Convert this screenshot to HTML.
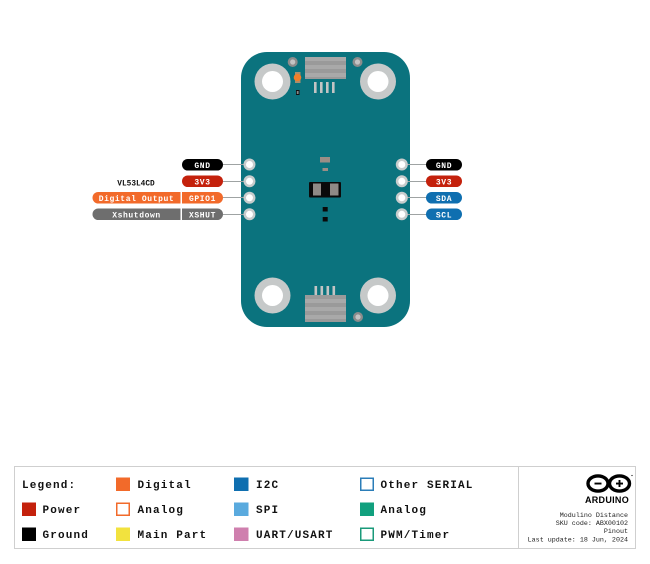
<!DOCTYPE html>
<html>
<head>
<meta charset="utf-8">
<style>
  html,body{margin:0;padding:0;background:#fff;}
  svg{display:block;}
  .pl{font-family:"Liberation Mono",monospace;font-weight:bold;font-size:8px;fill:#fff;letter-spacing:0.6px;}
  .lg{font-family:"Liberation Mono",monospace;font-weight:bold;font-size:11px;fill:#111;letter-spacing:1.15px;}
  .sm{font-family:"Liberation Mono",monospace;font-size:6.7px;fill:#222;}
</style>
</head>
<body>
<svg width="650" height="564" viewBox="0 0 650 564" xmlns="http://www.w3.org/2000/svg">
  <rect width="650" height="564" fill="#fff"/>

  <!-- Board -->
  <rect x="241" y="52" width="169" height="275" rx="26" ry="26" fill="#0b737e"/>

  <!-- Mounting holes -->
  <g fill="#c6c9c9">
    <circle cx="272.5" cy="81.5" r="18"/>
    <circle cx="378" cy="81.5" r="18"/>
    <circle cx="272.5" cy="295.5" r="18"/>
    <circle cx="378" cy="295.5" r="18"/>
  </g>
  <g fill="#fff">
    <circle cx="272.5" cy="81.5" r="10.5"/>
    <circle cx="378" cy="81.5" r="10.5"/>
    <circle cx="272.5" cy="295.5" r="10.5"/>
    <circle cx="378" cy="295.5" r="10.5"/>
  </g>

  <!-- small screw holes -->
  <g>
    <circle cx="292.7" cy="62" r="5" fill="#8c8c8c"/>
    <circle cx="292.7" cy="62" r="2.6" fill="#c4c4c4"/>
    <circle cx="357.5" cy="62" r="5" fill="#8c8c8c"/>
    <circle cx="357.5" cy="62" r="2.6" fill="#c4c4c4"/>
    <circle cx="358" cy="317" r="5" fill="#8c8c8c"/>
    <circle cx="358" cy="317" r="2.6" fill="#c4c4c4"/>
  </g>

  <!-- Top connector -->
  <g>
    <rect x="305" y="57" width="41" height="22" fill="#9a9a9a"/>
    <rect x="305" y="57" width="41" height="4" fill="#a9a9a9"/>
    <rect x="305" y="65" width="41" height="4" fill="#a9a9a9"/>
    <rect x="305" y="73" width="41" height="4" fill="#a9a9a9"/>
    <rect x="314" y="82" width="2.6" height="11" fill="#c4c4c4"/>
    <rect x="320" y="82" width="2.6" height="11" fill="#c4c4c4"/>
    <rect x="326" y="82" width="2.6" height="11" fill="#c4c4c4"/>
    <rect x="332" y="82" width="2.6" height="11" fill="#c4c4c4"/>
  </g>

  <!-- Bottom connector -->
  <g>
    <rect x="305" y="295" width="41" height="27" fill="#9a9a9a"/>
    <rect x="305" y="299" width="41" height="4" fill="#a9a9a9"/>
    <rect x="305" y="307" width="41" height="4" fill="#a9a9a9"/>
    <rect x="305" y="315" width="41" height="4" fill="#a9a9a9"/>
    <rect x="314.5" y="286" width="2.6" height="9" fill="#c4c4c4"/>
    <rect x="320.5" y="286" width="2.6" height="9" fill="#c4c4c4"/>
    <rect x="326.5" y="286" width="2.6" height="9" fill="#c4c4c4"/>
    <rect x="332.5" y="286" width="2.6" height="9" fill="#c4c4c4"/>
  </g>

  <!-- LED -->
  <rect x="295" y="72" width="5.5" height="11" fill="#a88e6e"/>
  <circle cx="297.5" cy="77.5" r="3.8" fill="#f07f2a"/>
  <rect x="296" y="90" width="3.5" height="5" fill="#111"/>
  <rect x="296.8" y="91" width="1.8" height="3" fill="#888"/>

  <!-- center components -->
  <rect x="320" y="157" width="10" height="5.5" fill="#9b8e86"/>
  <rect x="322.5" y="168" width="5.5" height="3" fill="#9b8e86"/>
  <rect x="309" y="182" width="32" height="15.5" rx="1" fill="#0a0a0a"/>
  <rect x="313" y="183.5" width="8" height="12" fill="#8f8a86"/>
  <rect x="330" y="183.5" width="8.5" height="12" fill="#8f8a86"/>
  <rect x="322.7" y="207" width="5" height="4.5" fill="#0a0a0a"/>
  <rect x="322.7" y="217" width="5" height="4.5" fill="#0a0a0a"/>

  <!-- Connector lines -->
  <g stroke="#9fa3a3" stroke-width="1">
    <line x1="223" y1="164.5" x2="244" y2="164.5"/>
    <line x1="223" y1="181.5" x2="244" y2="181.5"/>
    <line x1="223" y1="197.5" x2="244" y2="197.5"/>
    <line x1="223" y1="214.5" x2="244" y2="214.5"/>
    <line x1="407" y1="164.5" x2="427" y2="164.5"/>
    <line x1="407" y1="181.5" x2="427" y2="181.5"/>
    <line x1="407" y1="197.5" x2="427" y2="197.5"/>
    <line x1="407" y1="214.5" x2="427" y2="214.5"/>
  </g>

  <!-- Pins -->
  <g fill="#c8cccc">
    <circle cx="249.5" cy="164.5" r="6"/>
    <circle cx="249.5" cy="181.3" r="6"/>
    <circle cx="249.5" cy="197.8" r="6"/>
    <circle cx="249.5" cy="214.3" r="6"/>
    <circle cx="401.8" cy="164.5" r="6"/>
    <circle cx="401.8" cy="181.3" r="6"/>
    <circle cx="401.8" cy="197.8" r="6"/>
    <circle cx="401.8" cy="214.3" r="6"/>
  </g>
  <g fill="#fff">
    <circle cx="249.5" cy="164.5" r="3.5"/>
    <circle cx="249.5" cy="181.3" r="3.5"/>
    <circle cx="249.5" cy="197.8" r="3.5"/>
    <circle cx="249.5" cy="214.3" r="3.5"/>
    <circle cx="401.8" cy="164.5" r="3.5"/>
    <circle cx="401.8" cy="181.3" r="3.5"/>
    <circle cx="401.8" cy="197.8" r="3.5"/>
    <circle cx="401.8" cy="214.3" r="3.5"/>
  </g>

  <!-- Left labels -->
  <rect x="182" y="159" width="41" height="11.5" rx="5.75" fill="#000"/>
  <text class="pl" x="202.5" y="167.8" text-anchor="middle">GND</text>

  <rect x="182" y="175.5" width="41" height="11.5" rx="5.75" fill="#c4210c"/>
  <text class="pl" x="202.5" y="184.3" text-anchor="middle">3V3</text>

  <path d="M182 192 H217.25 A5.75 5.75 0 0 1 217.25 203.5 H182 Z" fill="#f26a2a"/>
  <text class="pl" x="202.5" y="200.8" text-anchor="middle">GPIO1</text>
  <path d="M180.5 192 H98.25 A5.75 5.75 0 0 0 98.25 203.5 H180.5 Z" fill="#f26a2a"/>
  <text class="pl" x="136.5" y="200.8" text-anchor="middle">Digital Output</text>

  <path d="M182 208.5 H217.25 A5.75 5.75 0 0 1 217.25 220 H182 Z" fill="#6e6e6e"/>
  <text class="pl" x="202.5" y="217.3" text-anchor="middle">XSHUT</text>
  <path d="M180.5 208.5 H98.25 A5.75 5.75 0 0 0 98.25 220 H180.5 Z" fill="#6e6e6e"/>
  <text class="pl" x="136.5" y="217.3" text-anchor="middle">Xshutdown</text>

  <text x="136" y="185.5" text-anchor="middle" style="font-family:'Liberation Mono',monospace;font-weight:bold;font-size:7.8px;fill:#111;">VL53L4CD</text>

  <!-- Right labels -->
  <rect x="426" y="159" width="36" height="11.5" rx="5.75" fill="#000"/>
  <text class="pl" x="444" y="167.8" text-anchor="middle">GND</text>
  <rect x="426" y="175.5" width="36" height="11.5" rx="5.75" fill="#c4210c"/>
  <text class="pl" x="444" y="184.3" text-anchor="middle">3V3</text>
  <rect x="426" y="192" width="36" height="11.5" rx="5.75" fill="#0f6fb0"/>
  <text class="pl" x="444" y="200.8" text-anchor="middle">SDA</text>
  <rect x="426" y="208.5" width="36" height="11.5" rx="5.75" fill="#0f6fb0"/>
  <text class="pl" x="444" y="217.3" text-anchor="middle">SCL</text>

  <!-- Legend box -->
  <rect x="14.5" y="466.5" width="621" height="82" fill="#fff" stroke="#cfcfcf" stroke-width="1"/>
  <line x1="518.5" y1="466.5" x2="518.5" y2="548.5" stroke="#cfcfcf" stroke-width="1"/>

  <text class="lg" x="22" y="488">Legend:</text>

  <rect x="22" y="502.5" width="14" height="13.5" fill="#c4210c"/>
  <text class="lg" x="42.5" y="513">Power</text>
  <rect x="22" y="527.5" width="14" height="13.5" fill="#000"/>
  <text class="lg" x="42.5" y="538">Ground</text>

  <rect x="116" y="477.5" width="14" height="13.5" fill="#f26a2a"/>
  <text class="lg" x="137.5" y="488">Digital</text>
  <rect x="116.75" y="503.25" width="12.5" height="12" fill="#fff" stroke="#f26a2a" stroke-width="1.5"/>
  <text class="lg" x="137.5" y="513">Analog</text>
  <rect x="116" y="527.5" width="14" height="13.5" fill="#f2e23e"/>
  <text class="lg" x="137.5" y="538">Main Part</text>

  <rect x="234" y="477.5" width="14.5" height="13.5" fill="#0f6fb0"/>
  <text class="lg" x="256" y="488">I2C</text>
  <rect x="234" y="502.5" width="14.5" height="13.5" fill="#5aaade"/>
  <text class="lg" x="256" y="513">SPI</text>
  <rect x="234" y="527.5" width="14.5" height="13.5" fill="#cf7fae"/>
  <text class="lg" x="256" y="538">UART/USART</text>

  <rect x="360.75" y="478.25" width="12.5" height="12" fill="#fff" stroke="#2b7db8" stroke-width="1.5"/>
  <text class="lg" x="380.5" y="488">Other SERIAL</text>
  <rect x="360" y="502.5" width="14" height="13.5" fill="#11a07e"/>
  <text class="lg" x="380.5" y="513">Analog</text>
  <rect x="360.75" y="528.25" width="12.5" height="12" fill="#fff" stroke="#1a9a7a" stroke-width="1.5"/>
  <text class="lg" x="380.5" y="538">PWM/Timer</text>

  <!-- Arduino logo -->
  <g fill="none" stroke="#000" stroke-width="3.4">
    <ellipse cx="598" cy="483.5" rx="10" ry="7.6"/>
    <ellipse cx="619.5" cy="483.5" rx="10" ry="7.6"/>
  </g>
  <rect x="594.5" y="482.6" width="7" height="1.9" fill="#000"/>
  <rect x="616" y="482.6" width="7" height="1.9" fill="#000"/>
  <rect x="618.55" y="480" width="1.9" height="7" fill="#000"/>
  <circle cx="632" cy="475.5" r="0.6" fill="#000"/>
  <text x="607" y="503" text-anchor="middle" style="font-family:'Liberation Sans',sans-serif;font-weight:bold;font-size:9px;fill:#000;letter-spacing:0.3px;">ARDUINO</text>

  <text class="sm" x="628" y="517" text-anchor="end">Modulino Distance</text>
  <text class="sm" x="628" y="525" text-anchor="end">SKU code: ABX00102</text>
  <text class="sm" x="628" y="533" text-anchor="end">Pinout</text>
  <text class="sm" x="628" y="541.5" text-anchor="end">Last update: 18 Jun, 2024</text>
</svg>
</body>
</html>
